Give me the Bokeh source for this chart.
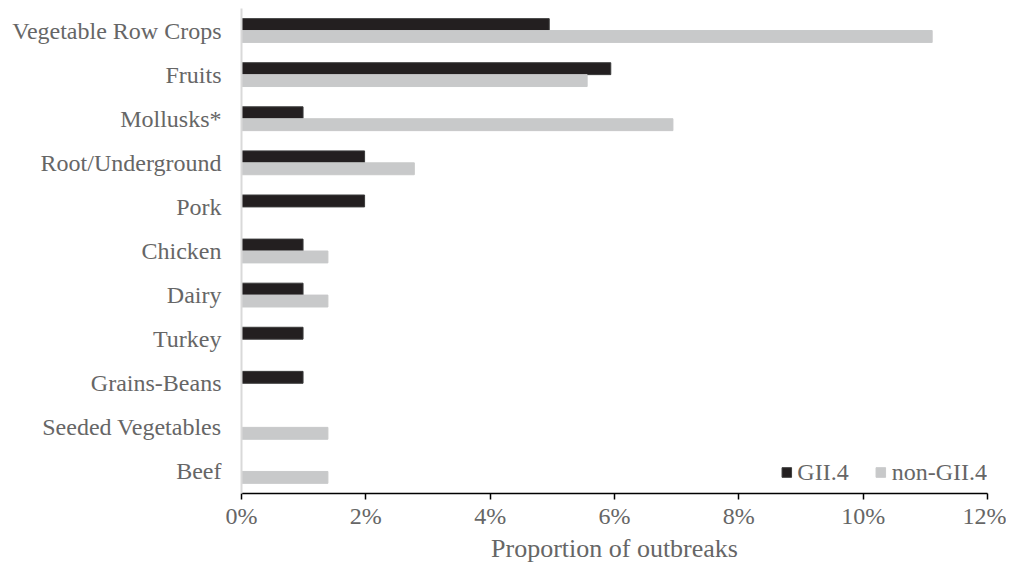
from bokeh.plotting import figure
from bokeh.models import FactorRange, Range1d, FixedTicker, PrintfTickFormatter, Legend, LegendItem, ColumnDataSource
from bokeh.transform import dodge
from bokeh.embed import file_html
from bokeh.resources import INLINE

categories = ["Vegetable Row Crops", "Fruits", "Mollusks*", "Root/Underground", "Pork",
              "Chicken", "Dairy", "Turkey", "Grains-Beans", "Seeded Vegetables", "Beef"]
gii4 = [4.95, 5.94, 0.99, 1.98, 1.98, 0.99, 0.99, 0.99, 0.99, 0.0, 0.0]
non_gii4 = [11.11, 5.56, 6.94, 2.78, 0.0, 1.39, 1.39, 0.0, 0.0, 1.39, 1.39]
x_ticks = [0, 2, 4, 6, 8, 10, 12]

FONT = "Liberation Serif"
GRAY = "#666666"

src = ColumnDataSource(dict(cat=categories, g=gii4, n=non_gii4))

p = figure(width=1006, height=565, output_backend="svg", toolbar_location=None,
           y_range=FactorRange(factors=list(reversed(categories)), range_padding=0),
           x_range=Range1d(0, 12),
           min_border_left=241, min_border_right=19, min_border_top=8, min_border_bottom=60)

r1 = p.hbar(y=dodge("cat", 0.135, range=p.y_range), right="g", left=0, height=0.27,
            source=src, fill_color="#231f20", line_color="#3a3a3a", line_width=1)
r2 = p.hbar(y=dodge("cat", -0.135, range=p.y_range), right="n", left=0, height=0.27,
            source=src, fill_color="#c8c9ca", line_color="#c8c9ca", line_width=1)

p.outline_line_color = None
p.xgrid.visible = False
p.ygrid.visible = False

xa = p.xaxis[0]
xa.ticker = FixedTicker(ticks=x_ticks)
xa.formatter = PrintfTickFormatter(format="%d%%")
xa.axis_line_color = "black"
xa.axis_line_width = 1.5
xa.major_tick_line_color = "black"
xa.major_tick_line_width = 1.5
xa.major_tick_in = 0
xa.major_tick_out = 6
xa.minor_tick_line_color = None
xa.major_label_text_font = FONT
xa.major_label_text_font_size = "24px"
xa.major_label_text_color = GRAY
xa.major_label_standoff = 3
xa.axis_label = "Proportion of outbreaks"
xa.axis_label_text_font = FONT
xa.axis_label_text_font_size = "26px"
xa.axis_label_text_font_style = "normal"
xa.axis_label_text_color = GRAY
xa.axis_label_standoff = 2

ya = p.yaxis[0]
ya.axis_line_color = "#d9d9d9"
ya.axis_line_width = 2
ya.major_tick_line_color = None
ya.minor_tick_line_color = None
ya.major_label_text_font = FONT
ya.major_label_text_font_size = "24px"
ya.major_label_text_color = GRAY
ya.major_label_standoff = 14

legend = Legend(items=[LegendItem(label="GII.4", renderers=[r1]),
                       LegendItem(label="non-GII.4", renderers=[r2])],
                orientation="horizontal", location="bottom_right")
legend.label_text_font = FONT
legend.label_text_font_size = "24px"
legend.label_text_color = GRAY
legend.glyph_width = 12
legend.glyph_height = 12
legend.label_height = 42
legend.spacing = 26
legend.label_standoff = 5
legend.padding = 5
legend.margin = 0
legend.border_line_color = None
legend.background_fill_alpha = 0
p.add_layout(legend)

open("out.html", "w").write(file_html(p, INLINE))
